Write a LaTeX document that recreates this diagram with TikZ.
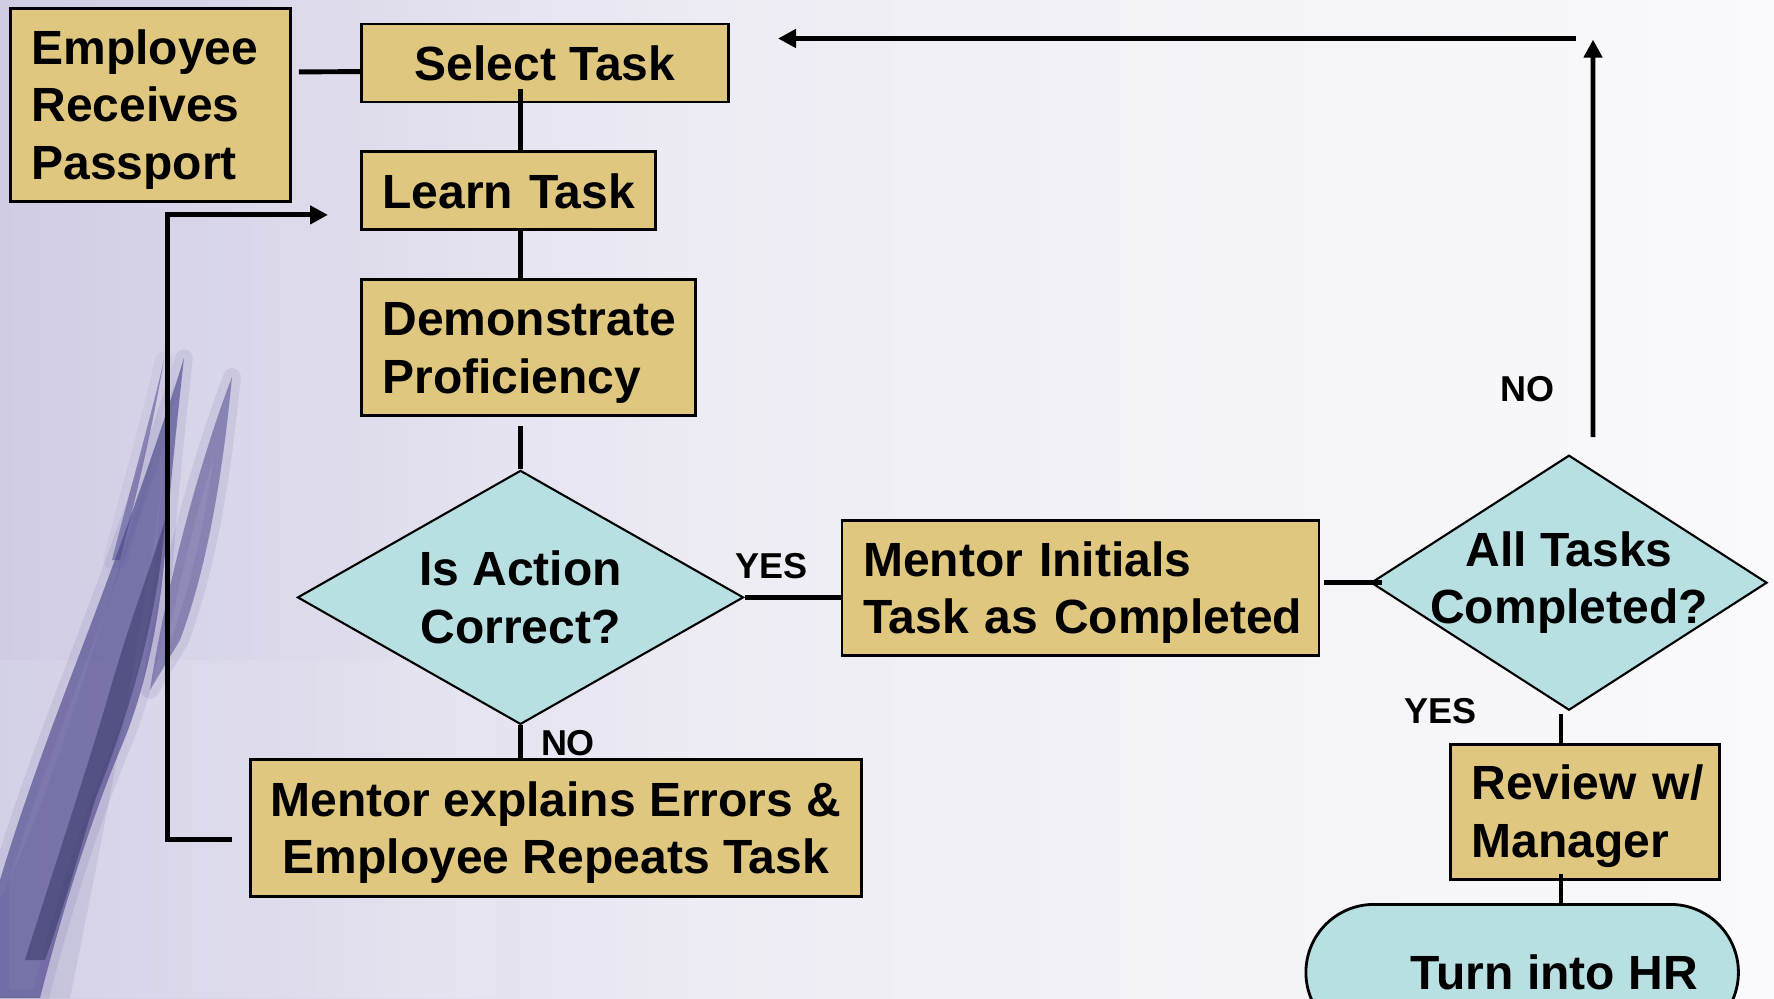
\documentclass[tikz,border=0pt]{standalone}
\usepackage{fontspec}
\newfontfamily\ars{Liberation Sans}
\usetikzlibrary{shapes.geometric,arrows.meta,calc}
\definecolor{tanfill}{HTML}{DFC780}
\definecolor{cyanfill}{HTML}{B8E0E2}
\definecolor{bgL}{HTML}{CFCCE4}
\definecolor{bgM}{HTML}{EDECF4}
\definecolor{bgR}{HTML}{FAFAFC}
\definecolor{quill}{HTML}{47438A}
\definecolor{quillcore}{HTML}{2A2858}
\newcommand{\bigf}{\ars\bfseries\fontsize{13.66pt}{16.4pt}\selectfont}
\newcommand{\lblf}{\ars\bfseries\fontsize{10.24pt}{12pt}\selectfont}
\newcommand{\tstrut}{\rule{0pt}{12.5pt}}
\begin{document}
\begin{tikzpicture}[x=0.1mm,y=-0.1mm,
  box/.style={draw=black, line width=0.8pt, fill=tanfill, font=\bigf, inner ysep=0pt, anchor=north west},
  dec/.style={diamond, draw=black, line width=0.6pt, fill=cyanfill, font=\bigf, align=center, inner ysep=0pt, inner xsep=-5mm},
  conn/.style={line width=1.4pt, black},
  arr/.style={conn, -{Triangle[length=1.8mm,width=1.8mm]}},
  lbl/.style={font=\lblf, inner sep=0pt},
  blade/.style={fill=quill, fill opacity=0.62, draw=quill, draw opacity=0.1, line width=5pt, line join=round}]
\useasboundingbox (0,0) rectangle (1774,998);
% background
\shade[left color=bgL, right color=bgM] (0,0) rectangle (700,998);
\shade[left color=bgM, right color=bgR] (700,0) rectangle (1774,998);
\fill[white, opacity=0.10] (0,660) rectangle (495,998);
% quill (background picture)
\fill[quill, opacity=0.10] (175,380) .. controls (120,560) and (60,780) .. (0,900) -- (0,998) -- (70,998) .. controls (110,800) and (150,600) .. (175,380) -- cycle;
\path[blade]
  (184,358) .. controls (176,430) and (170,490) .. (166,540)
  .. controls (162,600) and (150,680) .. (120,750)
  .. controls (95,810) and (65,900) .. (40,998) -- (0,998) -- (0,880)
  .. controls (30,780) and (70,680) .. (100,600)
  .. controls (130,520) and (165,420) .. (184,358) -- cycle;
\path[blade, fill opacity=0.5]
  (232,377) .. controls (224,460) and (210,560) .. (180,640)
  -- (150,690) .. controls (165,590) and (200,460) .. (232,377) -- cycle;
\path[blade, fill opacity=0.5, draw opacity=0.06] (164,360) .. controls (150,440) and (135,500) .. (120,560) -- (112,560) .. controls (130,490) and (150,420) .. (164,360) -- cycle;
\fill[quillcore, opacity=0.45] (165,520) .. controls (160,600) and (135,700) .. (95,800)
  .. controls (80,850) and (60,920) .. (45,960) -- (25,960)
  .. controls (50,880) and (90,760) .. (110,690) .. controls (130,620) and (150,570) .. (165,520) -- cycle;
% nodes
\node[box, minimum height=19.3mm, text width=23.8mm, inner xsep=2.1mm, align=left] (emp) at (9,7) {\tstrut Employee\\Receives\\Passport};
\node[box, minimum width=36.7mm, minimum height=7.8mm, align=center] (sel) at (360,22.6) {Select Task};
\node[box, minimum height=7.8mm, text width=25.2mm, inner xsep=2.1mm, align=left] (lrn) at (360,150.5) {\mbox{Learn Task}};
\node[box, minimum height=13.6mm, text width=29.2mm, inner xsep=2.1mm, align=left] (dem) at (360,278) {\tstrut Demonstrate\\Proficiency};
\node[dec, aspect=1.756, minimum width=44.6mm, minimum height=25.4mm] (q1) at (520.5,597.4) {Is Action\\Correct?};
\node[box, minimum width=61.1mm, minimum height=13.7mm, align=center] (mex) at (249,758) {\tstrut Mentor explains Errors \&\\Employee Repeats Task};
\node[box, minimum height=13.5mm, text width=43.5mm, inner xsep=2.1mm, align=left] (mi) at (840.6,519) {\tstrut\mbox{Mentor Initials}\\\mbox{Task as Completed}};
\node[dec, aspect=1.553, minimum width=39.6mm, minimum height=25.5mm] (q2) at (1569,582.7) {All Tasks\\Completed?};
\node[box, minimum height=13.5mm, text width=22.7mm, inner xsep=2.1mm, align=left] (rev) at (1449,743) {\tstrut\mbox{Review w/}\\Manager};
\node[draw=black, line width=0.8pt, fill=cyanfill, rounded corners=6.8mm, minimum width=43.25mm, minimum height=13.6mm, anchor=north west, font=\bigf, inner sep=0pt] (hr) at (1304.5,903) {\hspace*{6.4mm}Turn into HR};
% connectors
\draw[conn] ($(emp.east)+(0.7mm,3.3mm)$) -- ($(sel.west)+(0,-0.86mm)$);
\draw[conn] ($(q1.north |- sel.south)+(0,1.4mm)$) -- (q1.north |- lrn.north);
\draw[conn] (q1.north |- lrn.south) -- (q1.north |- dem.north);
\draw[conn] ($(q1.north |- dem.south)+(0,-0.9mm)$) -- (q1.north);
\draw[conn] (q1.south) -- (q1.south |- mex.north);
\node[lbl] (no1) at ($(q1.south)+(4.75mm,-1.8mm)$) {NO};
\draw[conn] (q1.east) -- (q1.east -| mi.west);
\node[lbl] (yes1) at ($(q1.east)+(2.7mm,3.1mm)$) {YES};
\draw[arr] ($(mex.west)+(-1.7mm,-1.2mm)$) -- ++(-6.45mm,0) |- ($(lrn.west)+(-3.2mm,-2.4mm)$);
\draw[conn] ($(mi.east |- q2.west)+(0.35mm,0)$) -- ($(q2.west)+(1.2mm,0)$);
\coordinate (ntop) at (1593,39.6);
\draw[arr] ($(q2.north)+(2.4mm,1.7mm)$) -- (ntop);
\node[lbl] (no2) at ($(q2.north)+(-4.2mm,6.5mm)$) {NO};
\coordinate (topR) at (1576,38.5);
\coordinate (topL) at (778,38.5);
\draw[arr] (topR) -- (topL);
\coordinate (vx) at (1561,0);
\draw[conn] ($(vx |- q2.south)+(0,-0.25mm)$) -- (vx |- rev.north);
\node[lbl] (yes2) at ($(q2.south)+(-12.9mm,0)$) {YES};
\draw[conn] ($(vx |- rev.south)+(0,0.7mm)$) -- (vx |- hr.north);
\end{tikzpicture}
\end{document}
